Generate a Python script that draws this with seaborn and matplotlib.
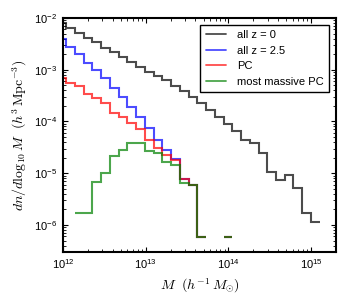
import numpy as np
import matplotlib
matplotlib.use("Agg")
import matplotlib.pyplot as plt
import seaborn as sns
from matplotlib.lines import Line2D

# bin edges in log10(M / h^-1 Msun), 30 equal log bins
log_edge_lo = 11.933
log_edge_hi = 15.104
n_bins = 30

nan = np.nan

# dn/dlog10M per bin (nan = empty bin)
all_z0 = [8.07e-3, 6.38e-3, 5.10e-3, 4.14e-3, 3.39e-3, 2.69e-3, 2.17e-3, 1.74e-3,
          1.42e-3, 1.15e-3, 9.2e-4, 7.6e-4, 6.3e-4, 4.9e-4, 3.8e-4, 3.0e-4,
          2.26e-4, 1.67e-4, 1.2e-4, 9.0e-5, 6.6e-5, 4.4e-5, 3.8e-5, 2.44e-5,
          1.06e-5, 7.4e-6, 9.3e-6, 5.1e-6, 1.73e-6, 1.16e-6]

all_z25 = [3.87e-3, 2.81e-3, 2.0e-3, 1.38e-3, 9.95e-4, 6.88e-4, 4.41e-4, 3.03e-4,
           1.94e-4, 1.24e-4, 7.42e-5, 4.31e-5, 2.76e-5, 1.85e-5, 7.66e-6, 5.81e-6,
           5.78e-7, nan, nan, 5.78e-7, nan, nan, nan, nan,
           nan, nan, nan, nan, nan, nan]

pc = [6.89e-4, 5.51e-4, 4.95e-4, 3.42e-4, 2.82e-4, 2.26e-4, 1.49e-4, 1.24e-4,
      9.27e-5, 7.29e-5, 4.40e-5, 3.08e-5, 2.21e-5, 1.81e-5, 7.66e-6, 5.81e-6,
      5.78e-7, nan, nan, 5.78e-7, nan, nan, nan, nan,
      nan, nan, nan, nan, nan, nan]

most_massive_pc = [nan, nan, 1.73e-6, 1.73e-6, 6.89e-6, 1.03e-5, 2.19e-5, 2.82e-5,
                   3.80e-5, 3.91e-5, 2.70e-5, 2.44e-5, 1.63e-5, 1.45e-5, 6.41e-6, 5.81e-6,
                   5.78e-7, nan, nan, 5.78e-7, nan, nan, nan, nan,
                   nan, nan, nan, nan, nan, nan]

labels = ["all z = 0", "all z = 2.5", "PC", "most massive PC"]
colors = ["k", "b", "r", "g"]

sns.set_style("ticks")
plt.rcParams["font.family"] = ["Liberation Sans", "DejaVu Sans"]
plt.rcParams["mathtext.fontset"] = "custom"
plt.rcParams["mathtext.rm"] = "Liberation Sans"
plt.rcParams["mathtext.it"] = "Liberation Sans:italic"
plt.rcParams["xtick.direction"] = "in"
plt.rcParams["ytick.direction"] = "in"
plt.rcParams["xtick.top"] = True
plt.rcParams["ytick.right"] = True
plt.rcParams["text.color"] = "k"
plt.rcParams["axes.labelcolor"] = "k"
plt.rcParams["xtick.color"] = "k"
plt.rcParams["ytick.color"] = "k"

edges = 10 ** np.linspace(log_edge_lo, log_edge_hi, n_bins + 1)

fig, ax = plt.subplots(figsize=(3.5, 3.0), dpi=100)
fig.subplots_adjust(left=0.18, right=0.96, bottom=0.16, top=0.94)

series = [all_z0, all_z25, pc, most_massive_pc]
for vals, col, lab in zip(series, colors, labels):
    ax.stairs(np.array(vals), edges, baseline=None, color=col, alpha=0.7,
              lw=1.5, label=lab)

ax.set_xscale("log")
ax.set_yscale("log")
ax.set_xlim(1e12, 2e15)
ax.set_ylim(3e-7, 1e-2)

for s in ax.spines.values():
    s.set_linewidth(1.5)
    s.set_color("k")
ax.tick_params(which="major", length=3.6, width=0.8, labelsize=8, pad=4)
ax.tick_params(which="minor", length=2.0, width=0.6)

ax.set_xlabel(r"$M\ \ (h^{-1}\,M_{\odot})$", fontsize=10, math_fontfamily="cm")
ax.set_ylabel(r"$dn/d\log_{10}M\ \ (h^{3}\,\mathrm{Mpc}^{-3})$", fontsize=10,
              math_fontfamily="cm")

handles = [Line2D([], [], color=c, alpha=0.7, lw=1.3) for c in colors]
leg = ax.legend(handles, labels, loc="upper right", fontsize=8, frameon=True,
                fancybox=False, handlelength=1.8, handletextpad=1.0,
                labelspacing=0.5, borderpad=0.5, borderaxespad=0.6)
leg.get_frame().set_edgecolor("k")
leg.get_frame().set_linewidth(1.0)
leg.get_frame().set_alpha(1.0)

plt.savefig("out.png", dpi=100)
